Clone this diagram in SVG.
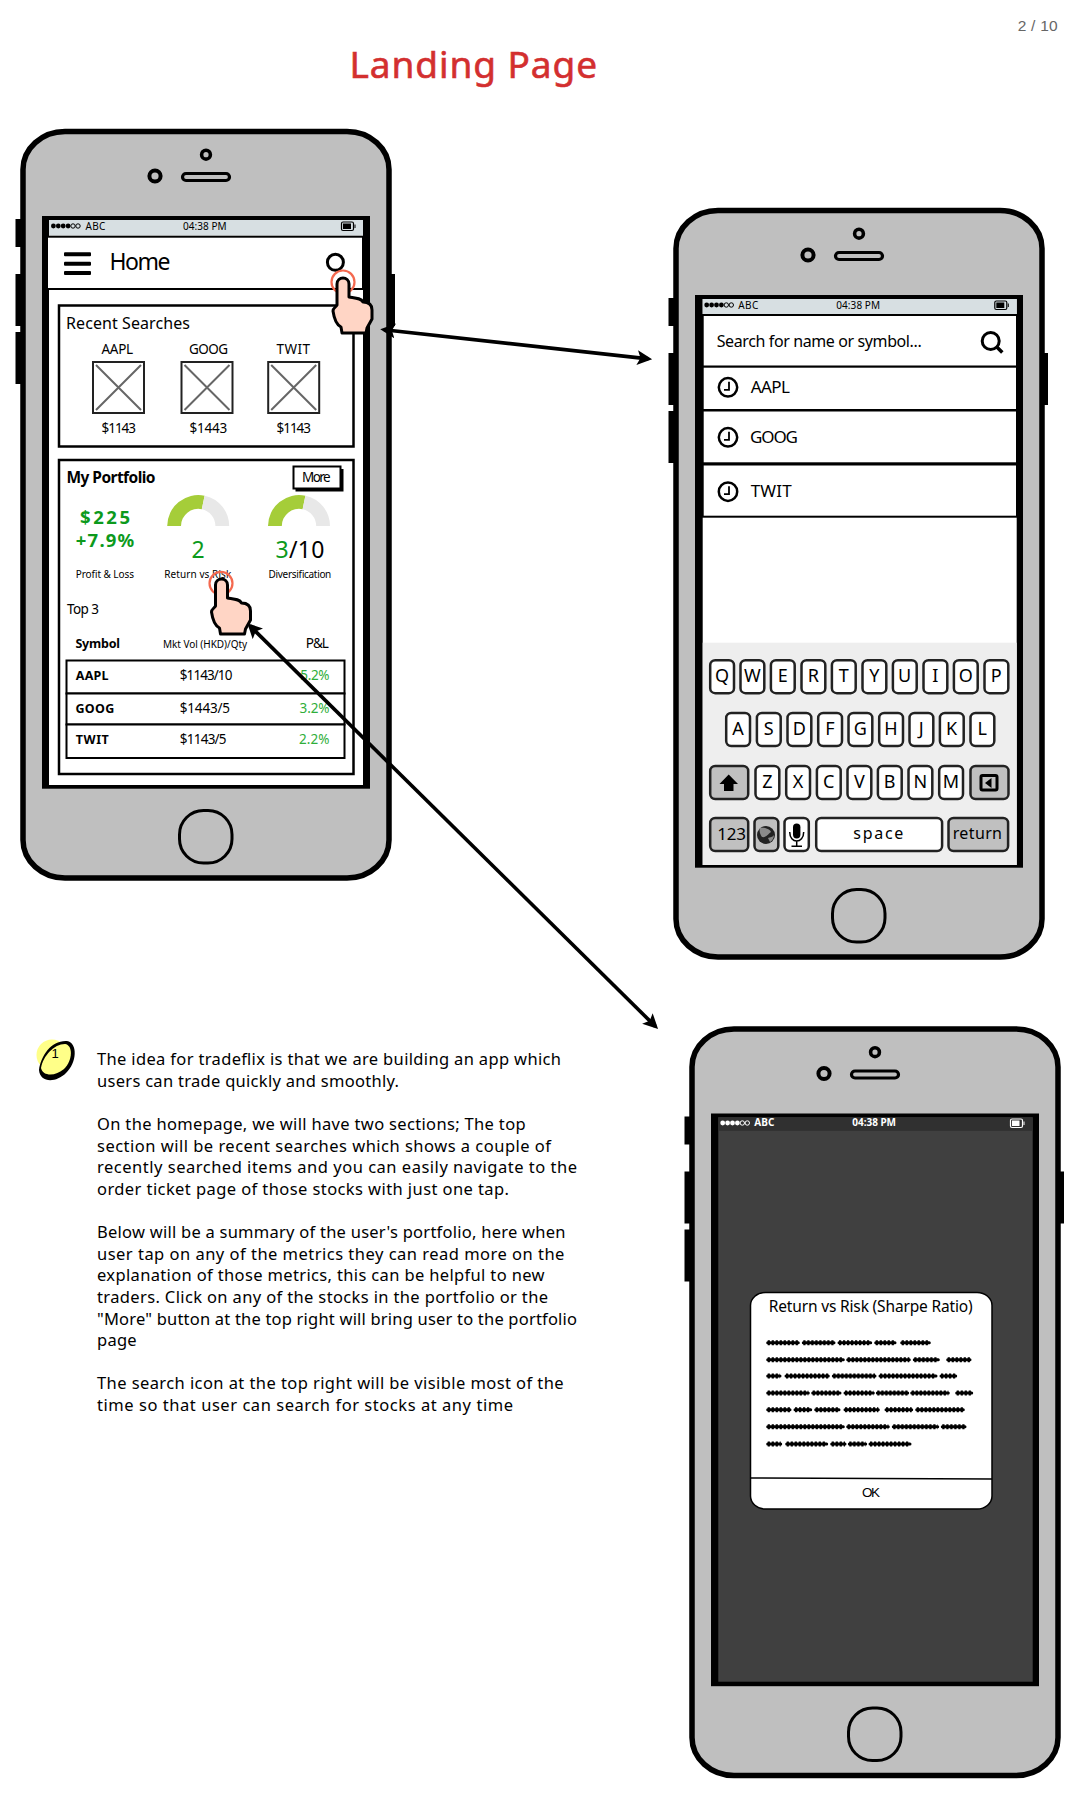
<svg xmlns="http://www.w3.org/2000/svg" xmlns:xlink="http://www.w3.org/1999/xlink" width="1079" height="1794" viewBox="0 0 1079 1794">
<style>
text{font-family:"Noto Sans","Open Sans","DejaVu Sans",sans-serif;fill:#000}
.b{font-weight:700}
.g{fill:#0c9a1c}
.g2{fill:#2fae3a}
.ar{font-family:"Liberation Sans",Arial,sans-serif}
.para{font-size:16.5px}
.s10{font-size:10px}
.s13{font-size:13.5px}
.s17{font-size:17px}
.box{fill:#fff;stroke:#000;stroke-width:2.5}
.thin{fill:#fff;stroke:#000;stroke-width:2}
.key{fill:#fff;stroke:#222;stroke-width:2.5}
.keyg{fill:#c0c0c0;stroke:#222;stroke-width:2.5}
.kt{font-size:18px;text-anchor:middle}
.cross{stroke:#666;stroke-width:2;fill:none}
.ic{fill:none;stroke:#000;stroke-width:3}
.clock{fill:none;stroke:#000;stroke-width:2.5}
.tap{fill:none;stroke:#f4694f;stroke-width:2.2}
.conn{fill:none;stroke:#000;stroke-width:3.6}
.sc1{fill:none;stroke:#000;stroke-width:3;stroke-linecap:round}
.sc2{fill:none;stroke:#000;stroke-width:5;stroke-dasharray:2.2 1.8}
</style>
<defs>
<marker id="head" markerUnits="userSpaceOnUse" markerWidth="15" markerHeight="15" refX="12" refY="8" orient="auto-start-reverse" viewBox="0 0 16 16">
<path d="M0,0 L16,8 L0,16 L3.5,8 Z" fill="#000"/>
</marker>
<g id="phone">
<rect x="15.5" y="219" width="8" height="28" fill="#000"/>
<rect x="15.5" y="274" width="8" height="52" fill="#000"/>
<rect x="15.5" y="332" width="8" height="52" fill="#000"/>
<rect x="388" y="274" width="7" height="52" fill="#000"/>
<rect x="23" y="131.5" width="366" height="746.5" rx="42" ry="38" fill="#bfbfbf" stroke="#000" stroke-width="5.5"/>
<circle cx="206" cy="154.7" r="4.4" fill="#bfbfbf" stroke="#000" stroke-width="3.6"/>
<circle cx="155" cy="176" r="5.6" fill="#bfbfbf" stroke="#000" stroke-width="4"/>
<rect x="182.5" y="173.5" width="47" height="7" rx="3.5" fill="#bfbfbf" stroke="#000" stroke-width="3.2"/>
<rect x="42" y="216" width="328" height="572.7" fill="#000"/>
<rect x="179.5" y="810.5" width="52.5" height="52.5" rx="24" ry="24" fill="#bfbfbf" stroke="#000" stroke-width="3"/>
</g>
<g id="dots">
<circle cx="2.4" cy="0" r="2.4"/><circle cx="7.3" cy="0" r="2.4"/><circle cx="12.2" cy="0" r="2.4"/><circle cx="17.1" cy="0" r="2.4"/>
<circle cx="22" cy="0" r="2.2" fill="none" stroke-width="1" stroke="currentColor"/><circle cx="27" cy="0" r="2.2" fill="none" stroke-width="1" stroke="currentColor"/>
</g>
<g id="clockicon">
<circle cx="0" cy="0" r="9.2" class="clock"/>
<path d="M1,-5.5 V2.5 H-4" fill="none" stroke="#000" stroke-width="1.8"/>
</g>
<path id="hand" d="M-6,6 C-6,-2 6,-2 6,6 L6,19 C12,20 18,20 20,24 C25,24 29,26 29,32 L29,41 L24,50 L23,55 L-1,55 L-2,49 C-6,47 -9,40 -10,33 C-10,30 -7,29 -6,27 Z" fill="#ffd5c5" stroke="#000" stroke-width="3" stroke-linejoin="round"/>
<path id="scribble" d="M767.7,1342.7H798.3M803.3,1342.7H834M839,1342.7H870.7M875.7,1342.7H895M901.7,1342.7H929.3M767.7,1359.7H843.3M847.7,1359.7H909.3M914.3,1359.7H938.3M947.7,1359.7H970M767.7,1376H780M786,1376H828.3M833.3,1376H875M880,1376H936M941,1376H955.7M767.7,1393H808.3M812.7,1393H840M845,1393H873.3M877.3,1393H907.7M911.7,1393H948.3M956.7,1393H971.7M767.7,1409.7H790M795,1409.7H810.7M815.7,1409.7H839M845,1409.7H878.3M886,1409.7H911.7M916.7,1409.7H963.3M767.7,1426.7H843.3M847.7,1426.7H888.3M893.3,1426.7H937.7M942.3,1426.7H965M767.7,1444H780.7M786.7,1444H826.7M831.7,1444H845M849.3,1444H865.7M870,1444H910"/>
<g id="gauge">
<path d="M167.2,526 A31,31 0 0 1 204.6,495.7 L201.8,509.2 A17.2,17.2 0 0 0 181,526 Z" fill="#a5cd39"/>
<path d="M204.6,495.7 A31,31 0 0 1 229.2,526 L215.4,526 A17.2,17.2 0 0 0 201.8,509.2 Z" fill="#e8e8e8"/>
</g>
<g id="imgph">
<rect x="0" y="0" width="51" height="51" fill="#fff" stroke="#222" stroke-width="2"/>
<path d="M3,3 L48,48 M48,3 L3,48" class="cross"/>
</g>
</defs>

<rect width="1079" height="1794" fill="#fff"/>

<g id="title">
<text x="349.5" y="78" font-size="37" textLength="247.5" stroke="#d32f2f" stroke-width="0.6" style="fill:#d32f2f">Landing Page</text>
</g>
<g id="page-number">
<text class="ar" x="1017.7" y="31" font-size="15.5" textLength="40" style="fill:#666">2 / 10</text>
</g>

<g id="phone-home">
<use xlink:href="#phone" href="#phone"/>
<rect x="49" y="220" width="314" height="565" fill="#fff"/>
<rect x="49" y="220" width="314" height="15.5" fill="#d7dfe2"/>
<use href="#dots" xlink:href="#dots" x="51" y="226" color="#000" fill="#000"/>
<text class="s10" x="85.4" y="229.5" textLength="20">ABC</text>
<text class="s10" x="183" y="229.5" textLength="43.6">04:38 PM</text>
<rect x="341.5" y="222" width="12" height="8.5" rx="1.5" fill="none" stroke="#000" stroke-width="1.2"/>
<rect x="343" y="223.5" width="8" height="5.5" fill="#000"/>
<path d="M355,224.5 V228" stroke="#000" stroke-width="1"/>
<rect x="47" y="236.7" width="316" height="52.3" class="thin"/>
<rect x="64" y="252.3" width="27" height="4" rx="1"/>
<rect x="64" y="261.7" width="27" height="4" rx="1"/>
<rect x="64" y="271" width="27" height="4" rx="1"/>
<text x="109.5" y="269.5" font-size="23" textLength="61">Home</text>
<circle cx="335.4" cy="262.3" r="8" class="ic"/>

<g id="recent-searches">
<rect x="59" y="305.5" width="294.5" height="141" class="box"/>
<text x="66" y="329" font-size="16" textLength="124">Recent Searches</text>
<text class="s13" x="101.6" y="354" textLength="31.4">AAPL</text>
<text class="s13" x="189" y="354" textLength="39">GOOG</text>
<text class="s13" x="276.5" y="354" textLength="33.5">TWIT</text>
<use href="#imgph" xlink:href="#imgph" x="93" y="362"/>
<use href="#imgph" xlink:href="#imgph" x="181.5" y="362"/>
<use href="#imgph" xlink:href="#imgph" x="268.2" y="362"/>
<text class="s13" x="101.6" y="432.7" textLength="34.4">$1143</text>
<text class="s13" x="189.4" y="432.7" textLength="37.9">$1443</text>
<text class="s13" x="276.5" y="432.7" textLength="34.5">$1143</text>
</g>

<g id="my-portfolio">
<rect x="59" y="460" width="294.5" height="314" class="box"/>
<text class="b" x="66.5" y="482.7" font-size="15.5" textLength="89">My Portfolio</text>
<rect x="295.5" y="469" width="48" height="22.5" fill="#000"/>
<rect x="293.5" y="466.5" width="47" height="22" fill="#fff" stroke="#000" stroke-width="2"/>
<text class="s13" x="302" y="482" textLength="28.6">More</text>
<text class="b g" x="80" y="524" font-size="18.5" textLength="50">$225</text>
<text class="b g" x="75.8" y="547.3" font-size="18.5" textLength="58.5">+7.9%</text>
<use href="#gauge" xlink:href="#gauge"/>
<use href="#gauge" xlink:href="#gauge" x="100.8"/>
<text class="g" x="191.5" y="558.3" font-size="23" textLength="12.5">2</text>
<text x="275.5" y="558.3" font-size="23" textLength="49"><tspan class="g">3</tspan><tspan>/10</tspan></text>
<text class="s10" x="75.8" y="577.7" textLength="58.2">Profit &amp; Loss</text>
<text class="s10" x="164.3" y="577.7" textLength="67">Return vs Risk</text>
<text class="s10" x="268.6" y="577.7" textLength="62.7">Diversification</text>
<text class="s13" x="67" y="614" textLength="32">Top 3</text>
<text class="s13 b" x="75.4" y="648.3" font-size="13" textLength="44.6" style="font-size:12.5px">Symbol</text>
<text class="s10" x="163" y="647.7" textLength="84.2">Mkt Vol (HKD)/Qty</text>
<text class="s13" x="305.8" y="648.3" textLength="23.1">P&amp;L</text>
<rect x="66.5" y="660.5" width="278" height="33" class="thin"/>
<rect x="66.5" y="693.5" width="278" height="31" class="thin"/>
<rect x="66.5" y="724.5" width="278" height="33.5" class="thin"/>
<text class="s13 b" x="75.8" y="680" textLength="32.7" style="font-size:12.5px">AAPL</text>
<text class="s13" x="179.8" y="680" textLength="52.6">$1143/10</text>
<text class="s13 g2" x="300.3" y="680" textLength="29.2">5.2%</text>
<text class="s13 b" x="75.4" y="713" textLength="38.9" style="font-size:12.5px">GOOG</text>
<text class="s13" x="179.8" y="713" textLength="50.2">$1443/5</text>
<text class="s13 g2" x="299.6" y="713" textLength="29.9">3.2%</text>
<text class="s13 b" x="75.8" y="744" textLength="33" style="font-size:12.5px">TWIT</text>
<text class="s13" x="179.8" y="744" textLength="46.8">$1143/5</text>
<text class="s13 g2" x="299" y="744" textLength="30.5">2.2%</text>
</g>

<circle cx="343" cy="282" r="11.5" class="tap"/>
<use href="#hand" xlink:href="#hand" x="343" y="278"/>
<circle cx="221" cy="583.3" r="11.5" class="tap"/>
<use href="#hand" xlink:href="#hand" x="221.5" y="579"/>
</g>

<g id="phone-search">
<use href="#phone" xlink:href="#phone" x="653" y="79"/>
<rect x="702.7" y="299" width="314" height="566" fill="#fff"/>
<rect x="702.7" y="299" width="314" height="15" fill="#d7dfe2"/>
<use href="#dots" xlink:href="#dots" x="704.3" y="305" color="#000" fill="#000"/>
<text class="s10" x="738.3" y="308.5" textLength="20">ABC</text>
<text class="s10" x="836.3" y="308.5" textLength="43.7">04:38 PM</text>
<rect x="994.8" y="301" width="12" height="8.5" rx="1.5" fill="none" stroke="#000" stroke-width="1.2"/>
<rect x="996.3" y="302.5" width="8" height="5.5" fill="#000"/>
<path d="M1008.3,303.5 V307" stroke="#000" stroke-width="1"/>
<g id="search-bar">
<rect x="702.7" y="315" width="314.3" height="51.7" class="thin"/>
<text x="716.7" y="347" font-size="16" textLength="205">Search for name or symbol...</text>
<circle cx="990.7" cy="341" r="8.5" class="ic"/>
<path d="M996.8,347 L1002.3,352.6" fill="none" stroke="#000" stroke-width="3.5"/>
</g>
<g id="recent-list">
<rect x="702.7" y="366.7" width="314.3" height="43.3" class="thin"/>
<use href="#clockicon" xlink:href="#clockicon" x="728" y="387.3"/>
<text class="s17" x="750.7" y="393.3" textLength="39.3">AAPL</text>
<rect x="702.7" y="410.5" width="314.3" height="52.8" class="thin"/>
<use href="#clockicon" xlink:href="#clockicon" x="728" y="437.3"/>
<text class="s17" x="750" y="442.7" textLength="48">GOOG</text>
<rect x="702.7" y="464.5" width="314.3" height="52.2" class="thin"/>
<use href="#clockicon" xlink:href="#clockicon" x="728" y="491.7"/>
<text class="s17" x="750.7" y="496.7" textLength="41">TWIT</text>
</g>
<g id="keyboard">
<rect x="702.7" y="642.7" width="314" height="222.3" fill="#eee"/>
<rect class="key" x="710.2" y="660.2" width="23.8" height="33" rx="5"/><text class="kt" x="722" y="682">Q</text>
<rect class="key" x="740.5" y="660.2" width="23.8" height="33" rx="5"/><text class="kt" x="752.3" y="682">W</text>
<rect class="key" x="770.9" y="660.2" width="23.8" height="33" rx="5"/><text class="kt" x="782.7" y="682">E</text>
<rect class="key" x="801.5" y="660.2" width="23.8" height="33" rx="5"/><text class="kt" x="813.3" y="682">R</text>
<rect class="key" x="831.9" y="660.2" width="23.8" height="33" rx="5"/><text class="kt" x="843.7" y="682">T</text>
<rect class="key" x="862.5" y="660.2" width="23.8" height="33" rx="5"/><text class="kt" x="874.3" y="682">Y</text>
<rect class="key" x="892.9" y="660.2" width="23.8" height="33" rx="5"/><text class="kt" x="904.7" y="682">U</text>
<rect class="key" x="923.5" y="660.2" width="23.8" height="33" rx="5"/><text class="kt" x="935.3" y="682">I</text>
<rect class="key" x="953.9" y="660.2" width="23.8" height="33" rx="5"/><text class="kt" x="965.7" y="682">O</text>
<rect class="key" x="984.5" y="660.2" width="23.8" height="33" rx="5"/><text class="kt" x="996.3" y="682">P</text>
<rect class="key" x="726.2" y="713" width="23.8" height="33" rx="5"/><text class="kt" x="738" y="734.7">A</text>
<rect class="key" x="756.9" y="713" width="23.8" height="33" rx="5"/><text class="kt" x="768.7" y="734.7">S</text>
<rect class="key" x="787.5" y="713" width="23.8" height="33" rx="5"/><text class="kt" x="799.3" y="734.7">D</text>
<rect class="key" x="818.2" y="713" width="23.8" height="33" rx="5"/><text class="kt" x="830" y="734.7">F</text>
<rect class="key" x="848.5" y="713" width="23.8" height="33" rx="5"/><text class="kt" x="860.3" y="734.7">G</text>
<rect class="key" x="879.2" y="713" width="23.8" height="33" rx="5"/><text class="kt" x="891" y="734.7">H</text>
<rect class="key" x="909.5" y="713" width="23.8" height="33" rx="5"/><text class="kt" x="921.3" y="734.7">J</text>
<rect class="key" x="939.9" y="713" width="23.8" height="33" rx="5"/><text class="kt" x="951.7" y="734.7">K</text>
<rect class="key" x="970.5" y="713" width="23.8" height="33" rx="5"/><text class="kt" x="982.3" y="734.7">L</text>
<rect class="keyg" x="710.2" y="766" width="38" height="33" rx="5"/>
<path d="M728.7,774.5 L738,784 L733.5,784 L733.5,791 L724,791 L724,784 L719.5,784 Z" fill="#000"/>
<rect class="key" x="755.5" y="766" width="23.8" height="33" rx="5"/><text class="kt" x="767.3" y="787.7">Z</text>
<rect class="key" x="786.2" y="766" width="23.8" height="33" rx="5"/><text class="kt" x="798" y="787.7">X</text>
<rect class="key" x="816.9" y="766" width="23.8" height="33" rx="5"/><text class="kt" x="828.7" y="787.7">C</text>
<rect class="key" x="847.5" y="766" width="23.8" height="33" rx="5"/><text class="kt" x="859.3" y="787.7">V</text>
<rect class="key" x="877.9" y="766" width="23.8" height="33" rx="5"/><text class="kt" x="889.7" y="787.7">B</text>
<rect class="key" x="908.5" y="766" width="23.8" height="33" rx="5"/><text class="kt" x="920.3" y="787.7">N</text>
<rect class="key" x="939.2" y="766" width="23.8" height="33" rx="5"/><text class="kt" x="951" y="787.7">M</text>
<rect class="keyg" x="970.5" y="766" width="38" height="33" rx="5"/>
<rect x="981" y="775.5" width="16" height="14.5" rx="1.5" fill="none" stroke="#000" stroke-width="3"/>
<path d="M991.5,778 L985,783 L991.5,788 Z" fill="#000"/>
<rect class="keyg" x="710.2" y="818" width="38" height="33" rx="5"/>
<text x="717.3" y="840" font-size="17" textLength="28.7">123</text>
<rect class="keyg" x="754.5" y="818" width="23.8" height="33" rx="5"/>
<circle cx="766" cy="835" r="9" fill="#222"/>
<path d="M760,828 C764,827 770,829 771,832 C768,834 766,838 762,837 C760,834 759,831 760,828 Z M768,838 C770,837 773,837 774,835 C774,838 772,841 770,842 Z" fill="#8a8a8a"/>
<rect class="key" x="784.5" y="818" width="24.3" height="33" rx="5"/>
<rect x="793" y="823.5" width="7.4" height="15" rx="3.7" fill="#000"/>
<path d="M789.7,832 C789.7,844 803.7,844 803.7,832 M796.7,841 V846 M791.5,846.3 H802" fill="none" stroke="#000" stroke-width="1.5"/>
<rect class="key" x="816.2" y="818" width="125.9" height="33" rx="5"/>
<text x="853.3" y="839.3" font-size="16" textLength="50">space</text>
<rect class="keyg" x="948.5" y="818" width="59.6" height="33" rx="5"/>
<text x="952.7" y="839.3" font-size="16" textLength="49.3">return</text>
</g>
</g>

<g id="phone-dialog">
<use href="#phone" xlink:href="#phone" x="669" y="897.5"/>
<rect x="718.3" y="1117.3" width="314.4" height="564.4" fill="#404040"/>
<rect x="718.3" y="1117.3" width="314.4" height="13.5" fill="#303030"/>
<use href="#dots" xlink:href="#dots" x="720.3" y="1123" color="#fff" fill="#fff"/>
<text class="s10 b" x="754.3" y="1126.3" textLength="20" style="fill:#fff">ABC</text>
<text class="s10 b" x="852.3" y="1126.3" textLength="43.7" style="fill:#fff">04:38 PM</text>
<rect x="1010.5" y="1119" width="12" height="8.5" rx="1.5" fill="none" stroke="#fff" stroke-width="1.2"/>
<rect x="1012" y="1120.5" width="7.5" height="5.5" fill="#fff"/>
<path d="M1024,1121.5 V1125" stroke="#fff" stroke-width="1"/>
<g id="dialog">
<rect x="750.5" y="1292.5" width="241.5" height="216.5" rx="15" ry="13" fill="#fff" stroke="#000" stroke-width="1.5"/>
<text x="768.7" y="1311.7" font-size="15.5" textLength="204">Return vs Risk (Sharpe Ratio)</text>
<use href="#scribble" xlink:href="#scribble" class="sc1"/>
<use href="#scribble" xlink:href="#scribble" class="sc2"/>
<path d="M750.5,1478 L992,1479" fill="none" stroke="#000" stroke-width="1.6"/>
<text class="ar" x="862" y="1497.3" font-size="13.5" textLength="18">OK</text>
</g>
</g>

<g id="note">
<circle cx="52" cy="1055" r="15.5" fill="#ffff88"/>
<path d="M39,1070 C41,1055 52,1040 67,1041 C78,1043 77,1063 66,1073 C56,1083 40,1083 39,1070 Z" fill="#000"/>
<path d="M41,1068 C43,1056 54,1044 65,1044 C73,1045 73,1060 64,1069 C56,1076 43,1077 41,1068 Z" fill="#ffff88"/>
<text class="ar" x="55" y="1058" font-size="13" text-anchor="middle">1</text>
<text class="para" x="97" y="1065" textLength="464">The idea for tradeflix is that we are building an app which</text>
<text class="para" x="97" y="1087" textLength="302">users can trade quickly and smoothly.</text>
<text class="para" x="97" y="1130" textLength="428.6">On the homepage, we will have two sections; The top</text>
<text class="para" x="97" y="1152" textLength="454">section will be recent searches which shows a couple of</text>
<text class="para" x="97" y="1173" textLength="480">recently searched items and you can easily navigate to the</text>
<text class="para" x="97" y="1195" textLength="412">order ticket page of those stocks with just one tap.</text>
<text class="para" x="97" y="1238" textLength="468.5">Below will be a summary of the user's portfolio, here when</text>
<text class="para" x="97" y="1260" textLength="467.4">user tap on any of the metrics they can read more on the</text>
<text class="para" x="97" y="1281" textLength="447.5">explanation of those metrics, this can be helpful to new</text>
<text class="para" x="97" y="1303" textLength="451">traders. Click on any of the stocks in the portfolio or the</text>
<text class="para" x="97" y="1325" textLength="480">"More" button at the top right will bring user to the portfolio</text>
<text class="para" x="97" y="1346" textLength="39.6">page</text>
<text class="para" x="97" y="1389" textLength="466.6">The search icon at the top right will be visible most of the</text>
<text class="para" x="97" y="1411" textLength="416">time so that user can search for stocks at any time</text>
</g>

<g id="connectors">
<path class="conn" d="M384,329.7 L648.4,358.9" marker-start="url(#head)" marker-end="url(#head)"/>
<path class="conn" d="M250,625.9 L655.4,1026.4" marker-start="url(#head)" marker-end="url(#head)"/>
</g>
</svg>
